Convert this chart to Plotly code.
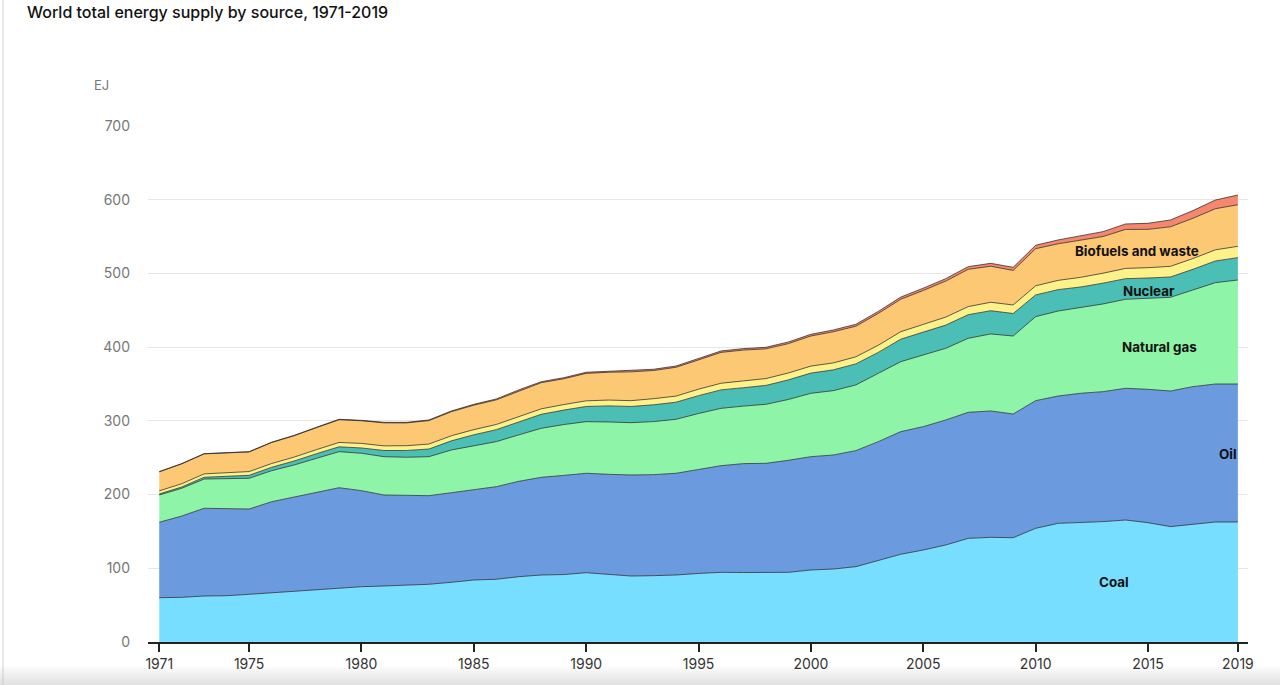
import plotly.graph_objects as go

years = list(range(1971, 2020))

coal = [60.1, 60.6, 62.4, 62.8, 64.7, 66.9, 69.2, 71.5, 73.7, 75.0,
        76.0, 76.9, 78.3, 81.0, 84.1, 85.1, 88.6, 90.9, 91.5, 94.0,
        91.5, 89.5, 90.0, 90.9, 93.0, 94.5, 94.3, 94.0, 94.5, 97.7,
        99.0, 102.2, 110.3, 119.0, 124.8, 131.6, 140.6, 142.0, 141.5, 154.2,
        161.0, 161.9, 163.3, 165.5, 161.9, 156.5, 159.6, 162.8, 162.8]

oil = [102.3, 110.3, 119.0, 118.0, 115.7, 123.4, 127.1, 131.0, 135.6, 130.3,
       123.4, 122.1, 120.2, 121.5, 122.1, 125.6, 129.4, 132.5, 134.5, 134.9,
       136.0, 137.1, 137.0, 138.0, 141.0, 144.7, 147.7, 148.4, 152.0, 153.7,
       154.7, 157.4, 161.5, 166.4, 167.3, 169.6, 171.0, 171.4, 167.8, 173.2,
       172.7, 175.5, 176.3, 178.7, 180.9, 184.0, 186.8, 187.2, 187.2]

natural_gas = [37.0, 37.6, 39.7, 40.8, 41.7, 42.1, 43.8, 46.7, 48.9, 50.7,
               52.0, 51.6, 52.9, 58.0, 60.1, 61.1, 63.0, 66.5, 69.0, 70.0,
               71.0, 70.9, 72.0, 73.2, 76.0, 77.8, 78.0, 80.1, 82.5, 86.0,
               87.3, 89.1, 92.7, 94.9, 97.3, 97.2, 100.4, 104.5, 105.8, 114.0,
               115.3, 116.2, 119.0, 120.7, 123.0, 127.1, 131.2, 137.5, 141.1]

nuclear = [1.4, 1.8, 2.4, 3.0, 4.0, 4.6, 5.4, 6.2, 6.6, 7.2,
           8.4, 9.2, 10.4, 12.4, 14.8, 16.2, 17.6, 19.0, 19.6, 20.6,
           21.8, 22.0, 22.8, 23.2, 24.2, 25.0, 25.0, 25.6, 26.6, 27.4,
           28.2, 28.6, 28.4, 30.5, 31.0, 31.5, 32.0, 31.5, 30.5, 29.4,
           29.0, 28.0, 28.2, 28.0, 28.0, 27.6, 28.0, 29.4, 30.3]

hydro = [4.2, 4.4, 4.6, 5.0, 5.1, 5.1, 5.3, 5.6, 5.9, 6.2,
         6.3, 6.5, 6.7, 6.9, 7.0, 7.1, 7.2, 7.4, 7.5, 7.7,
         7.9, 7.9, 8.3, 8.3, 8.8, 9.0, 9.2, 9.3, 9.4, 9.5,
         9.4, 9.6, 9.7, 10.2, 10.5, 10.9, 11.0, 11.5, 11.6, 12.4,
         12.6, 13.1, 13.5, 13.9, 14.0, 14.4, 14.6, 15.1, 15.4]

biofuels_waste = [25.8, 27.0, 27.1, 26.4, 26.6, 28.5, 29.0, 29.8, 30.8, 30.7,
                  31.2, 30.9, 31.8, 32.6, 33.2, 33.4, 34.9, 35.5, 35.0, 37.2,
                  37.7, 39.1, 38.2, 39.1, 39.7, 41.9, 41.8, 40.3, 39.8, 40.8,
                  42.3, 41.5, 43.2, 44.0, 46.0, 48.8, 50.6, 48.9, 46.9, 50.4,
                  49.6, 50.2, 49.8, 52.9, 52.0, 53.7, 54.6, 55.8, 56.4]

wind_solar_etc = [0.3, 0.3, 0.3, 0.4, 0.4, 0.4, 0.5, 0.5, 0.6, 0.6,
                  0.7, 0.8, 0.9, 1.0, 1.1, 1.2, 1.3, 1.3, 1.4, 1.5,
                  1.6, 1.6, 1.7, 1.7, 1.8, 1.9, 2.0, 2.1, 2.2, 2.3,
                  2.4, 2.6, 2.7, 2.9, 3.1, 3.3, 3.6, 3.9, 4.2, 4.6,
                  5.2, 5.9, 6.6, 7.4, 8.2, 9.2, 10.4, 11.8, 13.2]

series = [
    ("Coal", coal, "rgb(120,222,255)"),
    ("Oil", oil, "rgb(108,154,222)"),
    ("Natural gas", natural_gas, "rgb(142,245,168)"),
    ("Nuclear", nuclear, "rgb(75,191,181)"),
    ("Hydro", hydro, "rgb(253,242,138)"),
    ("Biofuels and waste", biofuels_waste, "rgb(253,200,116)"),
    ("Wind, solar, etc.", wind_solar_etc, "rgb(245,135,110)"),
]

x_ticks = [1971, 1975, 1980, 1985, 1990, 1995, 2000, 2005, 2010, 2015, 2019]
y_ticks = [0, 100, 200, 300, 400, 500, 600, 700]

labels = [
    ("Coal", 2013.5, 81),
    ("Oil", 2018.55, 255),
    ("Natural gas", 2015.5, 400),
    ("Nuclear", 2015.05, 476),
    ("Biofuels and waste", 2014.5, 530),
]

fig = go.Figure()
for name, vals, col in series:
    fig.add_trace(go.Scatter(
        x=years, y=vals, name=name, mode="lines", stackgroup="one",
        fillcolor=col, line=dict(color="rgba(40,40,40,0.75)", width=1),
        showlegend=False,
    ))

for text, lx, ly in labels:
    fig.add_annotation(x=lx, y=ly, text=text, showarrow=False,
                       font=dict(family="Inter", size=13.4, color="#111", weight=700),
                       xanchor="center", yanchor="middle")

# Title and unit
fig.add_annotation(xref="paper", yref="paper", x=-0.1118, y=1.2209,
                   text="World total energy supply by source, 1971-2019",
                   showarrow=False, xanchor="left", yanchor="middle",
                   font=dict(family="Inter", size=16, color="#111", weight=500))
fig.add_annotation(xref="paper", yref="paper", x=-0.0427, y=1.0795,
                   text="EJ", showarrow=False, xanchor="center", yanchor="middle",
                   font=dict(family="Inter", size=13, color="#777"))

# page decorations: faint left border and bottom shading
fig.add_shape(type="line", xref="paper", yref="paper", x0=-0.1318, x1=-0.1318,
              y0=-0.0833, y1=1.245, line=dict(color="#e8e8e8", width=2), layer="below")
for i in range(8):
    y0 = -0.0833 + i * 0.0045
    fig.add_shape(type="rect", xref="paper", yref="paper", x0=-0.14, x1=1.04,
                  y0=-0.0833, y1=y0 + 0.0045, fillcolor="rgba(200,200,200,0.07)",
                  line=dict(width=0), layer="below")

fig.update_layout(
    width=1280, height=685,
    margin=dict(l=148, r=32, t=126, b=43),
    paper_bgcolor="white", plot_bgcolor="white",
    font=dict(family="Inter", size=14, color="#444"),
    xaxis=dict(range=[1970.5, 2019.45], tickvals=x_ticks, ticktext=[str(t) for t in x_ticks],
               showgrid=False, zeroline=False, showline=True, linecolor="#222", linewidth=1.5,
               ticks="outside", ticklen=8, tickwidth=1.5, tickcolor="#222",
               tickfont=dict(family="Inter", size=14, color="#333")),
    yaxis=dict(range=[0, 700], tickvals=y_ticks, showgrid=True, gridcolor="#e6e6e6",
               gridwidth=1, zeroline=False, showline=False, ticks="",
               ticklabelstandoff=17,
               tickfont=dict(family="Inter", size=14, color="#777")),
)

fig.write_html("out.html", config={"displayModeBar": False},
               post_script="document.body.style.margin='0';document.body.style.overflow='hidden';")
